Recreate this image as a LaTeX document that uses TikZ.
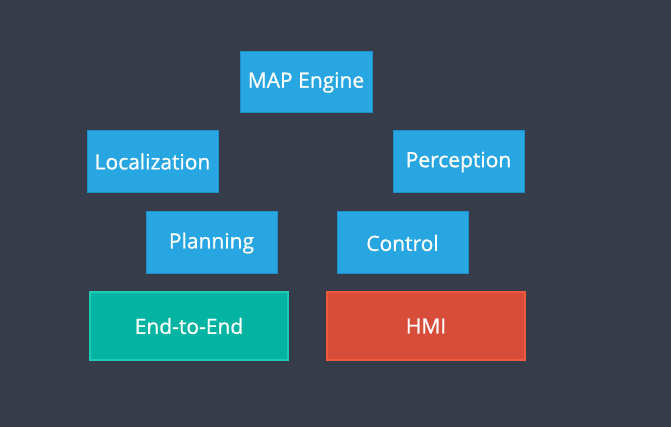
\documentclass[tikz,border=0pt]{standalone}
\usepackage{fontspec}
\setmainfont{Open Sans}
\newfontfamily\boxfont{Open Sans}[FakeBold=0.8]

\definecolor{slate}{HTML}{363C4A}
\definecolor{skyblue}{HTML}{27A6E1}
\definecolor{skyedge}{HTML}{1E8FC8}
\definecolor{teal}{HTML}{04B4A2}
\definecolor{tealedge}{HTML}{1DCAB4}
\definecolor{brick}{HTML}{D84D3A}
\definecolor{brickedge}{HTML}{F05A3C}

\tikzset{
	module/.style = {draw = skyedge, fill = skyblue, line width = 1pt, text = white, minimum width = 131pt, minimum height = 62pt, inner sep = 0pt, font = \boxfont\fontsize{21}{25}\selectfont},
	wide/.style = {module, minimum width = 198pt, minimum height = 68pt, line width = 1.5pt}
}

\begin{document}
\begin{tikzpicture}[x = 1pt, y = -1pt]

	% Canvas
	
	\fill [slate] (0, 0) rectangle (671, 427);
	\useasboundingbox (0, 0) rectangle (671, 427);
	
	% Software modules
	
	\node [module, minimum width = 132pt, minimum height = 61pt] (map) at (306, 82.5) {MAP Engine};
	
	\foreach \name/\x/\y/\txt in {loc/152.5/161.5/Localization, perc/458.5/162/Perception, plan/211.5/243/Planning, ctrl/402.5/243/Control}
	{
		\node [module] (\name) at (\x, \y) {\txt};
	}
	
	% Bottom row
	
	\node [wide, draw = tealedge, fill = teal] (e2e) at (189, 326) {End-to-End};
	\node [wide, draw = brickedge, fill = brick] (hmi) at (426, 326) {HMI};

\end{tikzpicture}
\end{document}
